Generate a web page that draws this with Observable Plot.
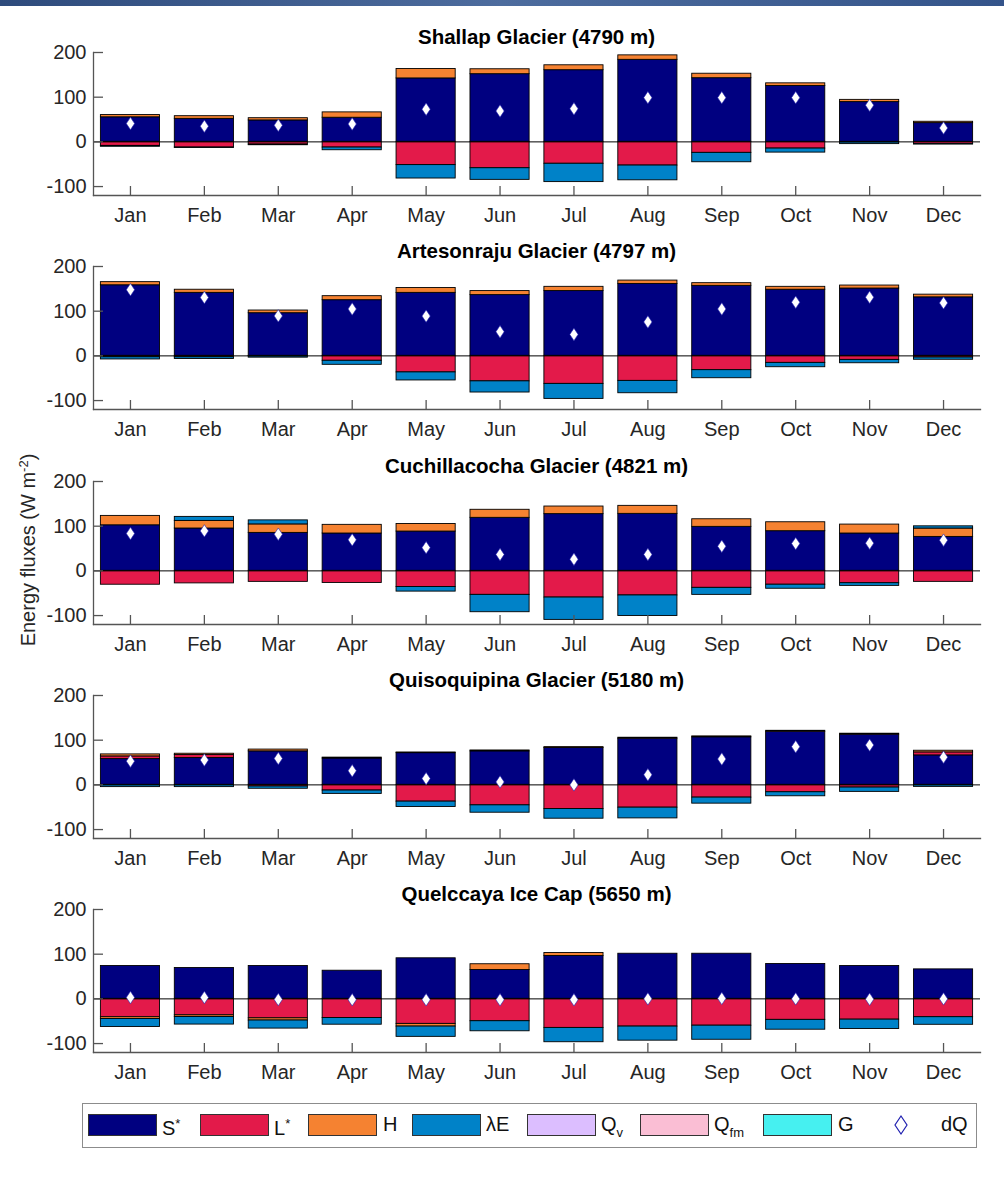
<!DOCTYPE html>
<html>
<head>
<meta charset="utf-8">
<script src="https://cdn.jsdelivr.net/npm/d3@7"></script>
<script src="https://cdn.jsdelivr.net/npm/@observablehq/plot@0.6"></script>
<style>
  html, body { margin: 0; padding: 0; background: #fff; }
  body { width: 1004px; height: 1181px; position: relative; overflow: hidden;
         font-family: "Liberation Sans", Arial, sans-serif; color: #262626; }
  #topbar { position: absolute; left: 0; top: 0; width: 1004px; height: 6px;
            background: linear-gradient(90deg, #2e4b7c, #4d6c9e 50%, #34548a); }
  .panel { position: absolute; left: 0; }
  .title { position: absolute; left: 93px; width: 887px; text-align: center;
           font-weight: bold; font-size: 20.5px; line-height: 24px; color: #000; }
  #ylabel { position: absolute; left: 28px; top: 550px; transform: translate(-50%, -50%) rotate(-90deg);
            white-space: nowrap; font-size: 20px; color: #262626; }
  #ylabel sup { font-size: 13px; vertical-align: 7px; }
  #legend { position: absolute; left: 82px; top: 1103px; width: 893px; height: 43px;
            border: 1px solid #8c8c8c; background: #fff; }
  .sw { position: absolute; top: 10px; width: 69px; height: 22px; border: 1px solid #333; box-sizing: border-box; }
  .lab { position: absolute; top: 8px; font-size: 20px; line-height: 24px; color: #111; white-space: nowrap; }
  .lab sup { font-size: 13px; vertical-align: 7px; }
  .lab sub { font-size: 13px; vertical-align: -6px; }
</style>
</head>
<body>
<div id="topbar"></div>
<div id="ylabel">Energy fluxes (W m<sup>-2</sup>)</div>
<div id="charts"></div>
<div id="legend"></div>
<script>
// ---------------- data ----------------
const months = ["Jan","Feb","Mar","Apr","May","Jun","Jul","Aug","Sep","Oct","Nov","Dec"];
const sites = ["Shallap Glacier (4790 m)", "Artesonraju Glacier (4797 m)", "Cuchillacocha Glacier (4821 m)",
               "Quisoquipina Glacier (5180 m)", "Quelccaya Ice Cap (5650 m)"];
const yTicks = [-100, 0, 100, 200];
const yDomain = [-120, 200];

// net shortwave S* (one row per site)
const S_star = [
  [55, 51.5, 48, 54, 142, 151.5, 160.4, 183.6, 142.5, 125, 89, 42],
  [158, 141, 95.5, 124.6, 141, 136, 145, 161, 156.7, 148, 150.7, 131],
  [102, 94.8, 85, 83.6, 88, 118.7, 127, 127.6, 98.5, 88.8, 83.6, 76],
  [57.7, 60, 75, 59, 71, 75, 82.5, 103.5, 106.5, 119, 112.5, 66],
  [73.5, 69, 73.5, 63, 90.8, 64.5, 96, 101, 101, 78, 73.5, 66]
];
// net longwave L*
const L_star = [
  [-9, -12.7, -6, -12.7, -52, -59, -49, -53, -24.6, -15, -1, -5],
  [-3, -3, -1, -11, -37, -57, -62.7, -56, -32, -15.7, -9, -3.7],
  [-31, -28, -24.6, -27, -36, -53.7, -59.7, -55, -38, -31, -27.6, -24.6],
  [6, 6.7, -3.7, -12.7, -37.5, -45.8, -54, -51, -28.5, -16.5, -6, 6.7],
  [-41, -36.8, -43.5, -42.8, -56, -50, -65, -62, -60, -47, -46.5, -41]
];
// sensible heat H
const H_flux = [
  [5, 6, 5, 12, 21, 11, 11, 10, 10, 6, 5, 3],
  [7, 7, 6, 9, 11, 9, 9.5, 7.5, 6, 6.5, 6.7, 6],
  [21, 17, 19, 19.4, 17, 18, 17, 17.9, 17, 20, 20, 18.7],
  [4.5, 3, 4, 2, 1.5, 2, 2, 2, 2, 2, 2, 3.7],
  [-4, -3.7, -5, 0, -6, 13, 6.7, 0, 0, 0, 0, 0]
];
// latent heat lambda E
const LE_flux = [
  [-2, -1, -1.5, -6, -30, -26, -41, -33, -21, -9, -4, -1],
  [-5, -4, -3, -9, -18, -25, -33.6, -27.6, -18, -9.7, -7.5, -5],
  [0, 9, 9, 0, -10.4, -38.8, -50, -46, -15.7, -9, -6, 5],
  [-5, -5, -5, -7.5, -12, -16.5, -21.7, -24, -13.5, -9, -9.7, -4.5],
  [-18, -17, -18, -15, -23, -22.5, -32, -31.5, -31.5, -22, -21, -17]
];
// rain heat Qv, freezing/melting Qfm, ground G (negligible)
const Qv_flux = [
  [0,0,0,0,0,0,0,0,0,0,0,0], [0,0,0,0,0,0,0,0,0,0,0,0], [0,0,0,0,0,0,0,0,0,0,0,0],
  [0,0,0,0,0,0,0,0,0,0,0,0], [0,0,0,0,0,0,0,0,0,0,0,0]
];
const Qfm_flux = [
  [0,0,0,0,0,0,0,0,0,0,0,0], [0,0,0,0,0,0,0,0,0,0,0,0], [0,0,0,0,0,0,0,0,0,0,0,0],
  [0,0,0,0,0,0,0,0,0,0,0,0], [0,0,0,0,0,0,0,0,0,0,0,0]
];
const G_flux = [
  [0,0,0,0,0,0,0,0,0,0,0,0], [0,0,0,0,0,0,0,0,0,0,0,0], [0,0,0,0,0,0,0,0,0,0,0,0],
  [0,0,0,0,0,0,0,0,0,0,0,0], [0,0,0,0,0,0,0,0,0,0,0,0]
];
// net energy dQ
const dQ = [
  [41, 35, 37, 40, 73, 69, 74, 99, 99, 99, 82, 31],
  [148, 130.5, 89.5, 105, 89, 54, 48, 76, 105, 120, 131, 118.6],
  [83.6, 89.5, 82, 69.4, 52, 36.6, 26, 36.6, 55, 61, 62, 68.7],
  [53, 55.5, 59, 31.5, 14, 6.7, 0, 22.5, 57.8, 85.5, 89, 62],
  [3, 3, -1.5, -2, -2, -2, -2, 0, 1, 0, -1, 0]
];

const components = ["S*", "L*", "H", "λE", "Qv", "Qfm", "G"];
const compColors = ["#000080", "#e31a4a", "#f58231", "#0082c8", "#dcbeff", "#fabed4", "#46f0f0"];
const compSeries = [S_star, L_star, H_flux, LE_flux, Qv_flux, Qfm_flux, G_flux];

// ---------------- layout ----------------
const W = 1004, mL = 93, mR = 24, mT = 10, mB = 35, plotH = 143;
const panelTop0 = 52.3, panelStep = 214.1;
const FONT = '"Liberation Sans", Arial, sans-serif';

const tallDiamond = {
  draw(context, size) {
    const a = Math.sqrt(size);
    const w = a * 0.36, h = a * 0.54;
    context.moveTo(0, -h); context.lineTo(w, 0); context.lineTo(0, h); context.lineTo(-w, 0); context.closePath();
  }
};

const charts = document.getElementById("charts");
sites.forEach((site, si) => {
  const rows = [];
  components.forEach((c, ci) => {
    months.forEach((m, mi) => rows.push({month: m, comp: c, value: compSeries[ci][si][mi]}));
  });
  const dq = months.map((m, mi) => ({month: m, value: dQ[si][mi]}));

  const chart = Plot.plot({
    width: W, height: mT + plotH + mB,
    marginLeft: mL, marginRight: mR, marginTop: mT, marginBottom: mB,
    style: {fontSize: "20px", fontFamily: FONT, color: "#262626", background: "transparent", overflow: "visible"},
    x: {domain: months, paddingInner: 0.2, paddingOuter: 0.1, round: false, label: null},
    y: {domain: yDomain, label: null},
    color: {domain: components, range: compColors},
    marks: [
      Plot.barY(rows, {x: "month", y: "value", fill: "comp", stroke: "#000", strokeWidth: 0.9}),
      Plot.ruleY([0], {stroke: "#000", strokeWidth: 1}),
      Plot.dot(dq, {x: "month", y: "value", symbol: tallDiamond, r: 6.5, fill: "white", stroke: "#2020b0", strokeWidth: 0.6}),
      Plot.frame({anchor: "left", stroke: "#555", strokeWidth: 1.3}),
      Plot.frame({anchor: "bottom", stroke: "#555", strokeWidth: 1.3}),
      Plot.tickY(yTicks, {y: d => d, stroke: "#555", strokeWidth: 1.3, insetRight: W - mL - mR - 10}),
      Plot.tickX(months, {x: d => d, stroke: "#555", strokeWidth: 1.3, insetTop: plotH - 9}),
      Plot.axisY({ticks: yTicks, tickSize: 0, tickPadding: 7, fontSize: 20, label: null, tickFormat: d => String(d)}),
      Plot.axisX({tickSize: 0, tickPadding: 12, fontSize: 20, label: null})
    ]
  });
  const top = panelTop0 + si * panelStep;
  const wrap = document.createElement("div");
  wrap.className = "panel";
  wrap.style.top = (top - mT) + "px";
  wrap.appendChild(chart);
  charts.appendChild(wrap);

  const t = document.createElement("div");
  t.className = "title";
  t.style.top = (top - 27) + "px";
  t.textContent = site;
  charts.appendChild(t);
});

// ---------------- legend ----------------
const legend = document.getElementById("legend");
const legendItems = [
  {name: "S*", html: "S<sup>*</sup>", sw: 5, lab: 79},
  {name: "L*", html: "L<sup>*</sup>", sw: 117, lab: 191},
  {name: "H", html: "H", sw: 225, lab: 300},
  {name: "λE", html: "λE", sw: 329, lab: 403},
  {name: "Qv", html: "Q<sub>v</sub>", sw: 444, lab: 518},
  {name: "Qfm", html: "Q<sub>fm</sub>", sw: 557, lab: 631},
  {name: "G", html: "G", sw: 680, lab: 755}
];
legendItems.forEach((it, i) => {
  const s = document.createElement("div");
  s.className = "sw";
  s.style.left = it.sw + "px";
  s.style.background = compColors[components.indexOf(it.name)];
  legend.appendChild(s);
  const l = document.createElement("div");
  l.className = "lab";
  l.style.left = it.lab + "px";
  l.innerHTML = it.html;
  legend.appendChild(l);
});
const dqSym = document.createElementNS("http://www.w3.org/2000/svg", "svg");
dqSym.setAttribute("width", "16"); dqSym.setAttribute("height", "24");
dqSym.style.position = "absolute"; dqSym.style.left = "810px"; dqSym.style.top = "9px";
dqSym.innerHTML = '<path d="M8,3 L14,12 L8,21 L2,12 Z" fill="white" stroke="#2020b0" stroke-width="1.2"/>';
legend.appendChild(dqSym);
const dqLab = document.createElement("div");
dqLab.className = "lab"; dqLab.style.left = "858px"; dqLab.textContent = "dQ";
legend.appendChild(dqLab);
</script>
</body>
</html>
